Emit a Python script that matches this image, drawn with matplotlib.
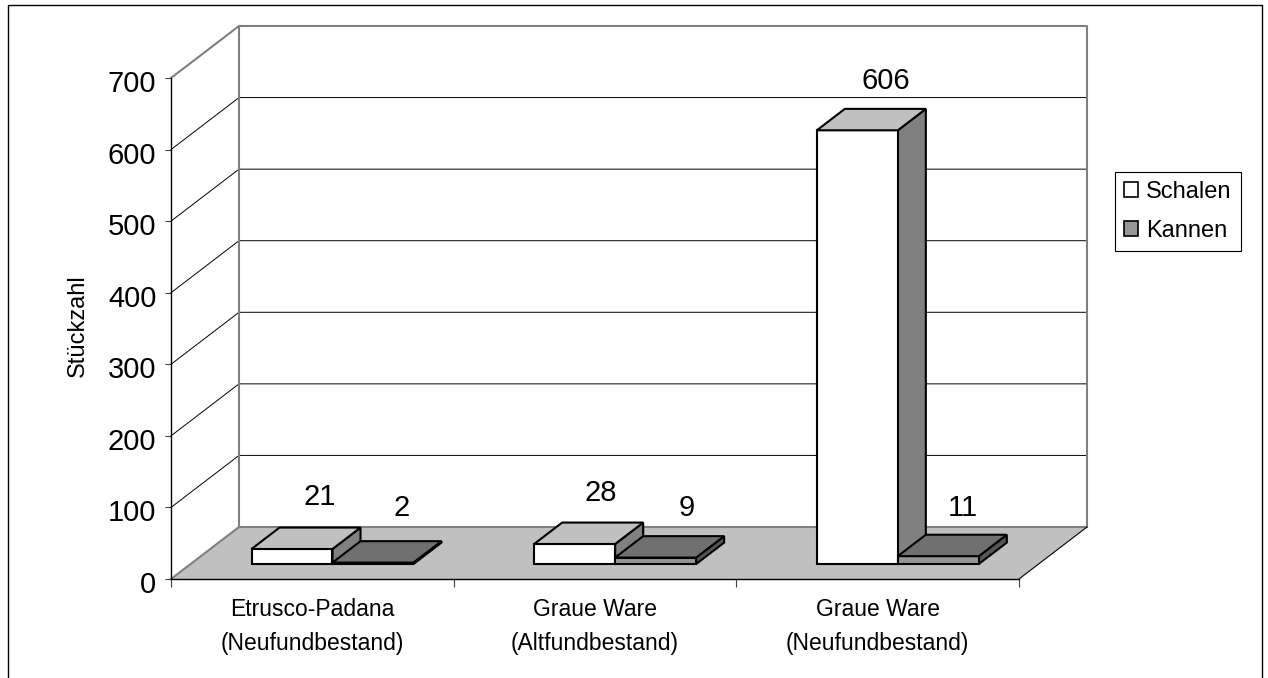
import matplotlib
matplotlib.use('Agg')
import matplotlib.pyplot as plt
from matplotlib.lines import Line2D
from matplotlib.patches import Patch, Polygon
from matplotlib.transforms import ScaledTranslation

plt.rcParams['font.family'] = ['Liberation Sans', 'DejaVu Sans']

categories = ['Etrusco-Padana\n(Neufundbestand)', 'Graue Ware\n(Altfundbestand)', 'Graue Ware\n(Neufundbestand)']
schalen = [21, 28, 606]
kannen = [2, 9, 11]
y_ticks = [0, 100, 200, 300, 400, 500, 600, 700]

W, H = 1268, 678

# projection of the fake 3d box, in data units
DEPTH_X = 0.2406
DEPTH_Y = 72.66
BAR_D0 = 0.288
BAR_D1 = 0.70
BAR_GAP = 0.2155
BAR_W = 0.2865


def proj(x, y, d=0.0):
    return (x + d * DEPTH_X, y + d * DEPTH_Y)


def draw_bar(ax, x0, value, front, top, side):
    x1 = x0 + BAR_W
    lw = 1.5
    ax.add_patch(Polygon([proj(x1, 0, BAR_D0), proj(x1, 0, BAR_D1), proj(x1, value, BAR_D1), proj(x1, value, BAR_D0)],
                         facecolor=side, edgecolor='black', lw=lw, clip_on=False, zorder=4))
    ax.add_patch(Polygon([proj(x0, 0, BAR_D0), proj(x1, 0, BAR_D0), proj(x1, value, BAR_D0), proj(x0, value, BAR_D0)],
                         facecolor=front, edgecolor='black', lw=lw, clip_on=False, zorder=4))
    ax.add_patch(Polygon([proj(x0, value, BAR_D0), proj(x1, value, BAR_D0), proj(x1, value, BAR_D1), proj(x0, value, BAR_D1)],
                         facecolor=top, edgecolor='black', lw=lw, clip_on=False, zorder=4))


fig = plt.figure(figsize=(W / 100, H / 100), dpi=100, facecolor='white')
ax = fig.add_axes([171 / W, (H - 579) / H, 848 / W, 501 / H])
ax.set_xlim(0, 3)
ax.set_ylim(0, 700)
ax.patch.set_visible(False)

# floor
ax.add_patch(Polygon([proj(0, 0), proj(3, 0), proj(3, 0, 1), proj(0, 0, 1)],
                     facecolor='#c0c0c0', edgecolor='none', clip_on=False, zorder=1))

# gridlines on both walls
for v in y_ticks[1:-1]:
    xs, ys = zip(proj(0, v), proj(0, v, 1), proj(3, v, 1))
    ax.plot(xs, ys, color='black', lw=0.7, clip_on=False, zorder=2)

# wall outline
xs, ys = zip(proj(0, 0), proj(0, 0, 1), proj(3, 0, 1), proj(3, 700, 1), proj(0, 700, 1), proj(0, 700))
ax.plot(xs, ys, color='#808080', lw=1.5, clip_on=False, zorder=2)
xs, ys = zip(proj(0, 0, 1), proj(0, 700, 1))
ax.plot(xs, ys, color='#808080', lw=1.5, clip_on=False, zorder=2)
xs, ys = zip(proj(3, 0), proj(3, 0, 1))
ax.plot(xs, ys, color='black', lw=0.8, clip_on=False, zorder=2)

# bars
for i in range(len(categories)):
    x0 = i + BAR_GAP
    draw_bar(ax, x0, schalen[i], 'white', '#c0c0c0', '#808080')
    draw_bar(ax, x0 + BAR_W, kannen[i], '#969696', '#707070', '#555555')

# data labels, offsets in points from the top of the bar's front
label_off = [[(19.8, 37.4), (20.5, 39.3)], [(18.7, 36.7), (22.3, 35.7)], [(20.2, 35.2), (17.3, 34.5)]]
for i in range(len(categories)):
    for j, vals in enumerate([schalen, kannen]):
        xc = i + BAR_GAP + BAR_W * (j + 0.5)
        ax.annotate(str(vals[i]), xy=proj(xc, vals[i], BAR_D0), xytext=label_off[i][j],
                    textcoords='offset points', ha='center', va='center',
                    fontsize=21, annotation_clip=False, zorder=6)

# axes
for name in ['top', 'right']:
    ax.spines[name].set_visible(False)
ax.spines['left'].set_linewidth(1.0)
ax.spines['bottom'].set_linewidth(1.0)
ax.spines['left'].set_zorder(3)
ax.spines['bottom'].set_zorder(3)
ax.set_yticks(y_ticks)
ax.tick_params(axis='y', labelsize=21, length=4.5, width=0.8, color='#404040', pad=6)
# labels sit a little below their ticks in the original
for t in ax.get_yticklabels():
    t.set_transform(t.get_transform() + ScaledTranslation(0, -3 / 100, fig.dpi_scale_trans))
ax.set_xticks([0, 1, 2, 3])
ax.set_xticklabels([])
ax.tick_params(axis='x', length=6, width=0.8, color='#404040')
ax.set_xticks([0.5, 1.5, 2.5], minor=True)
ax.set_xticklabels(categories, minor=True, fontsize=16.5, linespacing=1.6)
ax.tick_params(axis='x', which='minor', length=0, pad=13.5)
ax.set_ylabel('Stückzahl', fontsize=17)
ax.yaxis.set_label_coords((89 - 171) / 848, (579 - 326) / 501)

# legend
handles = [Patch(facecolor='white', edgecolor='black', lw=1.2, label='Schalen'),
           Patch(facecolor='#969696', edgecolor='black', lw=1.2, label='Kannen')]
fig.legend(handles=handles, loc='upper left', bbox_to_anchor=(1115 / W, (H - 172) / H),
           borderaxespad=0, fancybox=False, edgecolor='black', framealpha=1, fontsize=17,
           handlelength=0.6, handleheight=0.6, handletextpad=0.34, labelspacing=0.72,
           borderpad=0.38).get_frame().set_linewidth(0.8)

# outer frame, open at the bottom
xs = [8 / W, 8 / W, 1262 / W, 1262 / W]
ys = [0, (H - 5) / H, (H - 5) / H, 0]
fig.add_artist(Line2D(xs, ys, color='black', lw=1.0, transform=fig.transFigure))

fig.savefig('out.png', dpi=100)
